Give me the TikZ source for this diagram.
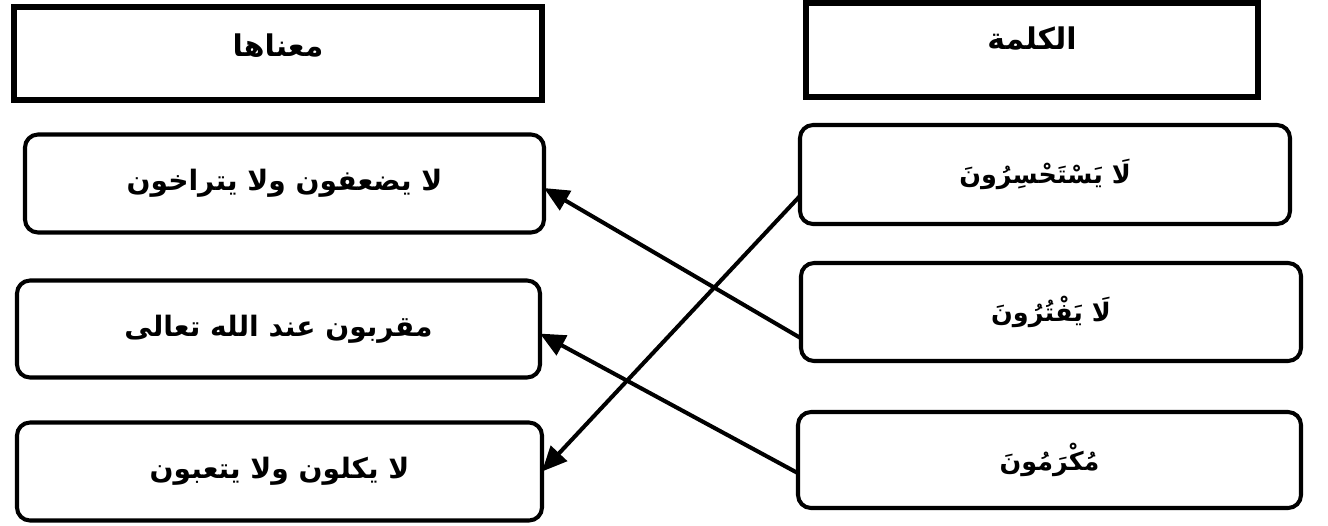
\documentclass[tikz,border=0pt]{standalone}
\usepackage{fontspec}
\newfontfamily\arabicfont[Script=Arabic]{DejaVu Sans}
\TeXXeTstate=1
\usetikzlibrary{arrows.meta}
\begin{document}
\begin{tikzpicture}[x=0.02cm,y=-0.02cm,
  headbox/.style={draw,line width=3pt,inner sep=0pt,outer sep=0pt,
    font=\arabicfont\bfseries\fontsize{17}{20}\selectfont},
  wordbox/.style={draw,line width=2.3pt,rounded corners=0.26cm,inner sep=0pt,outer sep=0pt},
  link/.style={line width=2.3pt,-{Triangle[length=0.5cm,width=0.44cm]}}]
\useasboundingbox (0,0) rectangle (1328,525);
% headers
\node[headbox,minimum width=10.56cm,minimum height=1.86cm,text depth=0.34cm] (meaning) at (278,53.5) {\beginR معناها\endR};
\node[headbox,minimum width=9.04cm,minimum height=1.88cm,text depth=0.48cm] (word) at (1032,50) {\beginR الكلمة\endR};
% left column: meanings
\foreach \n/\x/\y/\w/\h/\txt in {m1/284.5/183.5/519/98/{لا يضعفون ولا يتراخون},
    m2/278.5/329/523/97/{مقربون عند الله تعالى},
    m3/279.5/471.5/525/98/{لا يكلون ولا يتعبون}}
  \node[wordbox,font=\arabicfont\bfseries\fontsize{16}{19}\selectfont,
    minimum width=\w*0.02cm,minimum height=\h*0.02cm] (\n) at (\x,\y) {\beginR\txt\endR};
% right column: words
\foreach \n/\x/\y/\w/\h/\txt in {r1/1045/174.5/490/99/{لَا يَسْتَحْسِرُونَ},
    r2/1051/312/500/98/{لَا يَفْتُرُونَ},
    r3/1049.5/460/503/96/{مُكْرَمُونَ}}
  \node[wordbox,font=\arabicfont\bfseries\fontsize{14.5}{18}\selectfont,
    minimum width=\w*0.02cm,minimum height=\h*0.02cm] (\n) at (\x,\y) {\beginR\txt\endR};
% matching arrows
\draw[link] (r1.185) -- (m3.east);
\draw[link] (r2.186) -- (m1.-1);
\draw[link] (r3.183) -- (m2.-1);
\end{tikzpicture}
\end{document}
